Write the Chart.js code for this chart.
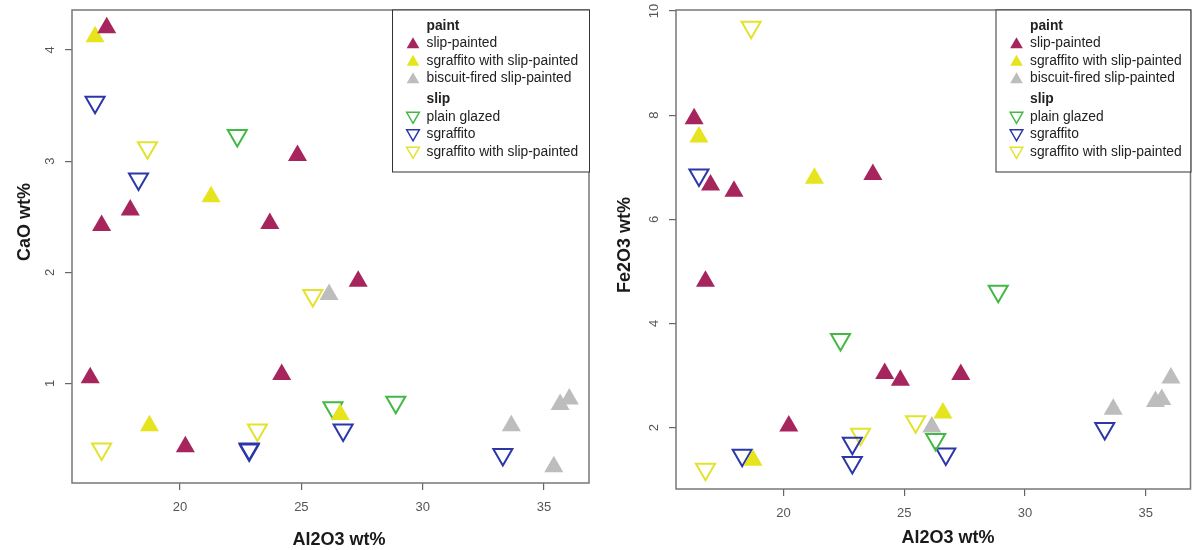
<!DOCTYPE html>
<html>
<head>
<meta charset="utf-8">
<script src="https://cdn.jsdelivr.net/npm/chart.js@4.4.1/dist/chart.umd.min.js"></script>
<style>
  body { margin: 0; background: #fff; }
  .panel { position: absolute; top: 0; width: 596px; height: 550px; }
</style>
</head>
<body>
<div class="panel" style="left:0"><canvas id="cao" width="596" height="550"></canvas></div>
<div class="panel" style="left:596px"><canvas id="fe" width="596" height="550"></canvas></div>
<script>
// Al2O3 wt% is shared by both panels, CaO goes left, Fe2O3 right
const slipPaintedAl = [16.3, 16.98, 16.77, 17.95, 23.7, 24.19, 24.84, 27.34, 20.22];
const slipPaintedCaO = [1.05, 4.2, 2.42, 2.56, 2.44, 1.08, 3.05, 1.92, 0.43];
const slipPaintedFe = [7.93, 6.66, 4.81, 6.54, 6.86, 3.04, 2.91, 3.02, 2.03];

const sgrPaintedAl = [16.5, 21.28, 18.74, 26.6];
const sgrPaintedCaO = [4.12, 2.68, 0.62, 0.72];
const sgrPaintedFe = [7.58, 6.79, 1.37, 2.28];

const biscuitAl = [26.14, 33.65, 36.04, 35.66, 35.4];
const biscuitCaO = [1.8, 0.62, 0.86, 0.81, 0.25];
const biscuitFe = [2.01, 2.35, 2.95, 2.54, 2.5];

const plainAl = [22.36, 26.3, 28.89];
const plainCaO = [3.23, 0.78, 0.83];
const plainFe = [3.69, 1.77, 4.62];

const sgrAl = [16.5, 18.29, 22.85, 22.85, 26.72, 33.3];
const sgrCaO = [3.53, 2.84, 0.41, 0.4, 0.58, 0.36];
const sgrFe = [6.85, 1.47, 1.7, 1.33, 1.49, 1.98];

const sgrSlipAl = [18.66, 25.47, 16.77, 23.19];
const sgrSlipCaO = [3.12, 1.79, 0.41, 0.58];
const sgrSlipFe = [9.69, 2.11, 1.2, 1.87];

const xTicks = [20, 25, 30, 35];
const caoTicks = [1, 2, 3, 4];
const feTicks = [2, 4, 6, 8, 10];

const FONT = '"Liberation Sans", Arial, Helvetica, sans-serif';

function pts(xs, ys) {
  return xs.map((x, i) => ({ x: x, y: ys[i] }));
}

// paint first so it sits on top (chart.js draws dataset 0 last)
function makeSets(key) {
  const rows = [
    ['paint', 'slip-painted', '#a6255c', true, slipPaintedAl, { cao: slipPaintedCaO, fe: slipPaintedFe }],
    ['paint', 'sgraffito with slip-painted', '#e6e41e', true, sgrPaintedAl, { cao: sgrPaintedCaO, fe: sgrPaintedFe }],
    ['paint', 'biscuit-fired slip-painted', '#bdbdbd', true, biscuitAl, { cao: biscuitCaO, fe: biscuitFe }],
    ['slip', 'plain glazed', '#44b844', false, plainAl, { cao: plainCaO, fe: plainFe }],
    ['slip', 'sgraffito', '#2b37a8', false, sgrAl, { cao: sgrCaO, fe: sgrFe }],
    ['slip', 'sgraffito with slip-painted', '#e3e22c', false, sgrSlipAl, { cao: sgrSlipCaO, fe: sgrSlipFe }]
  ];
  return rows.map(r => ({
    group: r[0],
    label: r[1],
    data: pts(r[4], r[5][key]),
    pointStyle: 'triangle',
    pointRadius: 11,
    pointRotation: r[3] ? 0 : 180,
    backgroundColor: r[3] ? r[2] : 'rgba(0,0,0,0)',
    borderColor: r[2],
    borderWidth: r[3] ? 0 : 2,
    filled: r[3],
    clip: false
  }));
}

function tri(ctx, x, y, r, down, filled, color) {
  const s = down ? -1 : 1;
  ctx.beginPath();
  ctx.moveTo(x, y - s * r);
  ctx.lineTo(x + r * 0.866, y + s * r / 2);
  ctx.lineTo(x - r * 0.866, y + s * r / 2);
  ctx.closePath();
  if (filled) { ctx.fillStyle = color; ctx.fill(); }
  else { ctx.strokeStyle = color; ctx.lineWidth = 1.5; ctx.stroke(); }
}

const frame = {
  id: 'frame',
  afterDraw(chart, args, o) {
    const { ctx, chartArea: a } = chart;
    ctx.save();
    ctx.strokeStyle = '#777';
    ctx.lineWidth = 1.5;
    ctx.strokeRect(a.left, a.top, a.right - a.left, a.bottom - a.top);

    // R style y labels, turned to read upwards
    const ys = chart.scales.y;
    ctx.fillStyle = '#555';
    ctx.font = '13px ' + FONT;
    ctx.textAlign = 'center';
    ctx.textBaseline = 'middle';
    ys.ticks.forEach(t => {
      ctx.save();
      ctx.translate(a.left - 22, ys.getPixelForValue(t.value));
      ctx.rotate(-Math.PI / 2);
      ctx.fillText(String(t.value), 0, 0);
      ctx.restore();
    });

    ctx.fillStyle = '#1a1a1a';
    ctx.font = 'bold 18px ' + FONT;
    ctx.fillText('Al2O3 wt%', o.xTitleX, o.xTitleY);
    ctx.save();
    ctx.translate(o.yTitleX, o.yTitleY);
    ctx.rotate(-Math.PI / 2);
    ctx.fillText(o.yTitle, 0, 0);
    ctx.restore();

    // legend box in the top right corner
    const bw = o.legendW, bh = 162;
    const bx = a.right - bw, by = a.top;
    ctx.fillStyle = '#fff';
    ctx.fillRect(bx, by, bw, bh);
    ctx.strokeStyle = '#333';
    ctx.lineWidth = 1;
    ctx.strokeRect(bx + 0.5, by, bw, bh);
    const rowY = [16, 33.5, 51, 68.5, 89, 107, 124.5, 142];
    const lines = [];
    let last = null;
    chart.data.datasets.forEach(d => {
      if (d.group !== last) { lines.push({ head: d.group }); last = d.group; }
      lines.push({ ds: d });
    });
    ctx.textAlign = 'left';
    lines.forEach((l, i) => {
      const y = by + rowY[i];
      ctx.fillStyle = '#222';
      if (l.head) {
        ctx.font = 'bold 13.8px ' + FONT;
        ctx.fillText(l.head, bx + 34.5, y);
      } else {
        ctx.font = '13.8px ' + FONT;
        ctx.fillText(l.ds.label, bx + 34.5, y);
        tri(ctx, bx + 21, y + (l.ds.filled ? 1 : -1), 7.3, !l.ds.filled, l.ds.filled, l.ds.borderColor);
      }
    });
    ctx.restore();
  }
};

function build(id, key, yMin, yMax, yTicks, pad, yWidth, xHeight, titles) {
  return new Chart(document.getElementById(id), {
    type: 'scatter',
    data: { datasets: makeSets(key) },
    options: {
      responsive: false,
      animation: false,
      events: [],
      devicePixelRatio: 1,
      layout: { padding: pad, autoPadding: false },
      plugins: { legend: { display: false }, tooltip: { enabled: false }, frame: titles },
      scales: {
        x: {
          type: 'linear',
          min: 15.55,
          max: 36.85,
          afterBuildTicks: s => { s.ticks = xTicks.map(v => ({ value: v })); },
          afterFit: s => { s.height = xHeight; s.paddingLeft = 0; s.paddingRight = 0; },
          grid: { drawOnChartArea: false, drawTicks: true, tickLength: 7, color: '#666', lineWidth: 1.2 },
          border: { display: false },
          ticks: { color: '#555', font: { family: FONT, size: 13 }, padding: 10, maxRotation: 0 }
        },
        y: {
          type: 'linear',
          min: yMin,
          max: yMax,
          afterBuildTicks: s => { s.ticks = yTicks.map(v => ({ value: v })); },
          afterFit: s => { s.width = yWidth; s.paddingTop = 0; s.paddingBottom = 0; },
          grid: { drawOnChartArea: false, drawTicks: true, tickLength: 7, color: '#666', lineWidth: 1.2 },
          border: { display: false },
          ticks: { display: false }
        }
      }
    },
    plugins: [frame]
  });
}

build('cao', 'cao', 0.104, 4.36, caoTicks, { top: 10, right: 7, left: 0, bottom: 0 }, 72, 67,
  { yTitle: 'CaO wt%', xTitleX: 339, xTitleY: 540, yTitleX: 25, yTitleY: 222, legendW: 197 });
build('fe', 'fe', 0.82, 10.02, feTicks, { top: 10, right: 1.5, left: 0, bottom: 0 }, 80, 61,
  { yTitle: 'Fe2O3 wt%', xTitleX: 352, xTitleY: 538, yTitleX: 29.5, yTitleY: 245, legendW: 195 });
</script>
</body>
</html>
